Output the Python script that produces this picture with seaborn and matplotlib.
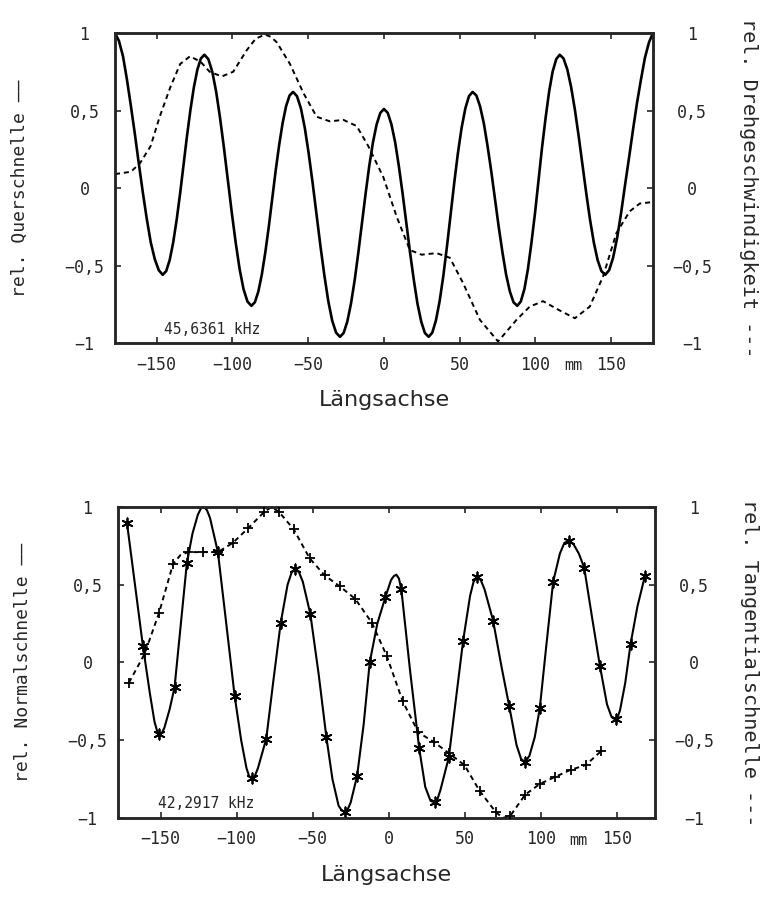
import pandas as pd
import matplotlib
matplotlib.use("Agg")
import matplotlib.pyplot as plt
import seaborn as sns

# ---- upper panel (45,6361 kHz) ----
quer_x = [-177.5, -174.9, -172.2, -169.6, -167.0, -164.4, -161.8, -159.1, -156.5, -153.9, -151.2, -148.6,
          -146.0, -143.7, -141.4, -139.1, -136.8, -134.5, -132.25, -130.0, -127.7, -125.4, -123.1, -120.8,
          -118.5, -115.9, -113.3, -110.75, -108.2, -105.6, -103.0, -100.4, -97.8, -95.25, -92.7, -90.1,
          -87.5, -85.2, -82.9, -80.6, -78.3, -76.0, -73.75, -71.5, -69.2, -66.9, -64.6, -62.3,
          -60.0, -57.4, -54.8, -52.25, -49.7, -47.1, -44.5, -41.9, -39.3, -36.75, -34.2, -31.6,
          -29.0, -26.6, -24.2, -21.75, -19.3, -16.9, -14.5, -12.1, -9.7, -7.25, -4.8, -2.4,
          0.0, 2.5, 4.9, 7.4, 9.8, 12.3, 14.75, 17.2, 19.7, 22.1, 24.6, 27.0,
          29.5, 31.9, 34.3, 36.75, 39.2, 41.6, 44.0, 46.4, 48.8, 51.25, 53.7, 56.1,
          58.5, 61.0, 63.4, 65.9, 68.3, 70.8, 73.25, 75.7, 78.2, 80.6, 83.1, 85.5,
          88.0, 90.3, 92.7, 95.0, 97.3, 99.7, 102.0, 104.3, 106.7, 109.0, 111.3, 113.7,
          116.0, 118.5, 121.0, 123.5, 126.0, 128.5, 131.0, 133.5, 136.0, 138.5, 141.0, 143.5,
          146.0, 148.6, 151.2, 153.9, 156.5, 159.1, 161.8, 164.4, 167.0, 169.6, 172.2, 174.9, 177.5]
quer_y = [1.00, 0.95, 0.85, 0.70, 0.53, 0.35, 0.16, -0.03, -0.20, -0.35, -0.46, -0.53,
          -0.56, -0.536, -0.465, -0.352, -0.205, -0.034, 0.15, 0.334, 0.505, 0.652, 0.765, 0.836,
          0.86, 0.832, 0.751, 0.623, 0.455, 0.26, 0.05, -0.16, -0.355, -0.523, -0.651, -0.732,
          -0.76, -0.737, -0.668, -0.558, -0.415, -0.249, -0.07, 0.109, 0.275, 0.418, 0.528, 0.597,
          0.62, 0.593, 0.514, 0.389, 0.225, 0.035, -0.17, -0.375, -0.565, -0.729, -0.854, -0.933,
          -0.96, -0.935, -0.862, -0.745, -0.593, -0.415, -0.225, -0.035, 0.143, 0.295, 0.412, 0.485,
          0.51, 0.485, 0.412, 0.295, 0.143, -0.035, -0.225, -0.415, -0.593, -0.745, -0.862, -0.935,
          -0.96, -0.933, -0.854, -0.729, -0.565, -0.375, -0.17, 0.035, 0.225, 0.389, 0.514, 0.593,
          0.62, 0.597, 0.528, 0.418, 0.275, 0.109, -0.07, -0.249, -0.415, -0.558, -0.668, -0.737,
          -0.76, -0.732, -0.651, -0.523, -0.355, -0.16, 0.05, 0.26, 0.455, 0.623, 0.751, 0.832,
          0.86, 0.836, 0.765, 0.652, 0.505, 0.334, 0.15, -0.034, -0.205, -0.352, -0.465, -0.536,
          -0.56, -0.53, -0.45, -0.32, -0.16, 0.02, 0.20, 0.38, 0.55, 0.70, 0.84, 0.94, 1.00]

dreh_x = [-177.5, -167.0, -161.0, -154.0, -148.0, -141.0, -134.5, -128.0,
          -121.0, -115.0, -107.0, -99.5, -90.5, -84.5, -78.4, -74.5, -70.7,
          -62.0, -53.0, -44.4, -35.6, -26.8, -18.0, -10.3, -0.4, 8.4,
          17.1, 24.8, 34.7, 43.5, 52.3, 63.3, 75.3, 87.5, 96.2, 105.0,
          116.0, 126.0, 135.8, 144.6, 153.4, 162.2, 168.8, 177.5]
dreh_y = [0.09, 0.105, 0.16, 0.27, 0.46, 0.65, 0.80, 0.85,
          0.815, 0.75, 0.72, 0.75, 0.89, 0.965, 0.99, 0.975, 0.94,
          0.80, 0.61, 0.46, 0.43, 0.44, 0.40, 0.27, 0.07, -0.185,
          -0.40, -0.43, -0.42, -0.45, -0.615, -0.85, -0.99, -0.85, -0.765, -0.73,
          -0.79, -0.84, -0.765, -0.57, -0.29, -0.15, -0.10, -0.09]

# ---- lower panel (42,2917 kHz) ----
# measured points (drawn with markers)
normal_pts_x = [-172.1, -161.6, -150.7, -140.8, -132.7, -112.3, -101.3, -90.0,
                -80.5, -71.0, -61.4, -51.5, -41.0, -29.0, -20.8, -12.5, -2.2,
                8.3, 20.0, 30.3, 39.5, 48.9, 58.1, 68.6, 79.2, 89.5, 99.3,
                108.1, 118.4, 128.5, 138.8, 149.1, 159.0, 168.4]
normal_pts_y = [0.90, 0.106, -0.46, -0.16, 0.64, 0.71, -0.215, -0.745,
                -0.49, 0.256, 0.60, 0.31, -0.48, -0.96, -0.73, 0.0, 0.42,
                0.47, -0.55, -0.90, -0.61, 0.14, 0.55, 0.27, -0.28, -0.64, -0.295,
                0.52, 0.78, 0.61, -0.02, -0.365, 0.12, 0.556]
# further points read along the curve between the markers
normal_fill_x = [-157.0, -154.0, -152.3, -149.0, -147.5, -144.0, -129.0, -125.5,
                 -123.5, -121.5, -119.5, -117.5, -106.8, -97.0, -93.5, -91.8, -88.0,
                 -86.0, -76.0, -66.5, -63.8, -59.0, -56.5, -46.0, -37.0, -33.0,
                 -31.0, -27.0, -25.0, -16.5, -7.5, 1.5, 3.3, 5.0, 6.7, 14.0, 24.0,
                 27.5, 32.0, 34.0, 44.0, 53.5, 55.8, 60.5, 63.0, 74.0, 84.0, 87.0,
                 92.5, 96.0, 103.5, 112.5, 115.5, 121.5, 125.0, 133.5, 143.5,
                 146.5, 147.8, 150.5, 152.0, 155.5, 163.5]
normal_fill_y = [-0.20, -0.38, -0.44, -0.45, -0.42, -0.30, 0.83, 0.95,
                 0.99, 1.00, 0.98, 0.93, 0.25, -0.50, -0.68, -0.73, -0.73,
                 -0.68, -0.13, 0.50, 0.58, 0.58, 0.52, -0.08, -0.75, -0.92,
                 -0.95, -0.945, -0.90, -0.40, 0.25, 0.53, 0.555, 0.565, 0.54, -0.05, -0.80,
                 -0.89, -0.88, -0.82, -0.25, 0.43, 0.52, 0.53, 0.47, -0.02, -0.53, -0.62,
                 -0.60, -0.48, 0.10, 0.70, 0.77, 0.76, 0.70, 0.30, -0.27,
                 -0.35, -0.36, -0.35, -0.31, -0.13, 0.36]

tang_pts_x = [-170.8, -160.5, -151.1, -141.8, -132.0, -122.2, -112.3, -102.4,
              -92.3, -82.2, -72.3, -62.5, -52.0, -42.1, -32.2, -22.1, -11.1,
              -1.2, 9.2, 19.5, 29.5, 39.8, 49.8, 59.7, 70.2, 80.0, 89.7,
              99.5, 109.6, 119.6, 129.5, 139.6]
tang_pts_y = [-0.13, 0.055, 0.316, 0.633, 0.71, 0.71, 0.71, 0.77,
              0.865, 0.965, 0.97, 0.857, 0.67, 0.56, 0.49, 0.41, 0.256,
              0.04, -0.25, -0.45, -0.51, -0.585, -0.66, -0.825, -0.96, -0.985, -0.85,
              -0.78, -0.735, -0.69, -0.66, -0.57]
tang_fill_x = [-137.0, -77.2, 75.0]
tang_fill_y = [0.69, 1.00, -1.00]

xticks = [-150, -100, -50, 0, 50, 100, 150]
xtick_labels = ["\u2212150", "\u2212100", "\u221250", "0", "50", "100", "150"]
yticks = [-1, -0.5, 0, 0.5, 1]
ytick_labels = ["\u22121", "\u22120,5", "0", "0,5", "1"]

sns.set_style("ticks")
plt.rcParams["font.family"] = ["DejaVu Sans Mono", "DejaVu Sans"]
plt.rcParams["axes.linewidth"] = 1.8

fig = plt.figure(figsize=(7.66, 8.98), dpi=100)


def setup(ax, ax2, xlim, left_label, right_label, freq, freq_x):
    ax.set_xlim(*xlim)
    ax.set_ylim(-1, 1)
    ax2.set_ylim(-1, 1)
    ax.set_xticks(xticks)
    ax.set_xticklabels(xtick_labels)
    ax.set_yticks(yticks)
    ax.set_yticklabels(ytick_labels)
    ax2.set_yticks(yticks)
    ax2.set_yticklabels(ytick_labels)
    ax.tick_params(axis="x", direction="in", length=4, width=1.2, top=True,
                   labelsize=12, pad=9)
    ax.tick_params(axis="y", direction="in", length=4, width=1.2, right=False,
                   labelsize=12, pad=22)
    ax2.tick_params(axis="y", direction="in", length=4, width=1.2,
                    labelsize=12, pad=28)
    for lab in ax.get_yticklabels() + ax2.get_yticklabels():
        lab.set_horizontalalignment("center")
    ax.set_xlabel("Längsachse", fontsize=16, labelpad=12, family="DejaVu Sans")
    ax.set_ylabel(left_label, fontsize=13, va="center")
    ax2.set_ylabel(right_label, fontsize=14.5, rotation=270, va="center")
    ax.yaxis.set_label_coords(-0.177, 0.5)
    ax2.yaxis.set_label_coords(1.177, 0.5)
    ax.annotate("mm", xy=(125, 0), xycoords=("data", "axes fraction"),
                xytext=(0, -16), textcoords="offset points",
                ha="center", va="center", fontsize=11)
    ax.text(freq_x, 0.045, freq, transform=ax.transAxes, ha="center",
            va="center", fontsize=10.5)


# upper panel
ax1 = fig.add_axes([0.1501, 0.6180, 0.7023, 0.3452])
ax1r = ax1.twinx()
sns.lineplot(x=quer_x, y=quer_y, ax=ax1, color="black", lw=1.9,
             sort=False, estimator=None)
sns.lineplot(x=dreh_x, y=dreh_y, ax=ax1r, color="black", lw=1.4,
             linestyle=(0, (2.6, 2.0)), sort=False, estimator=None)
setup(ax1, ax1r, (-177.5, 177.5), "rel. Querschnelle \u2014\u2014",
      "rel. Drehgeschwindigkeit ---", "45,6361 kHz", 0.18)

# lower panel
normal = pd.DataFrame({"x": normal_pts_x + normal_fill_x,
                       "y": normal_pts_y + normal_fill_y}).sort_values("x")
tang = pd.DataFrame({"x": tang_pts_x + tang_fill_x,
                     "y": tang_pts_y + tang_fill_y}).sort_values("x")

ax2 = fig.add_axes([0.1540, 0.0891, 0.7010, 0.3463])
ax2r = ax2.twinx()
sns.lineplot(data=normal, x="x", y="y", ax=ax2, color="black", lw=1.5,
             sort=False, estimator=None)
sns.scatterplot(x=normal_pts_x, y=normal_pts_y, ax=ax2, marker=(6, 2, 0),
                s=55, color="black", linewidth=1.3, zorder=3)
sns.lineplot(data=tang, x="x", y="y", ax=ax2r, color="black", lw=1.4,
             linestyle=(0, (2.6, 2.0)), sort=False, estimator=None)
sns.scatterplot(x=tang_pts_x, y=tang_pts_y, ax=ax2r, marker="+",
                s=60, color="black", linewidth=1.3, zorder=3)
setup(ax2, ax2r, (-178, 175), "rel. Normalschnelle \u2014\u2014",
      "rel. Tangentialschnelle ---", "42,2917 kHz", 0.165)

fig.savefig("out.png", dpi=100, facecolor="white")
